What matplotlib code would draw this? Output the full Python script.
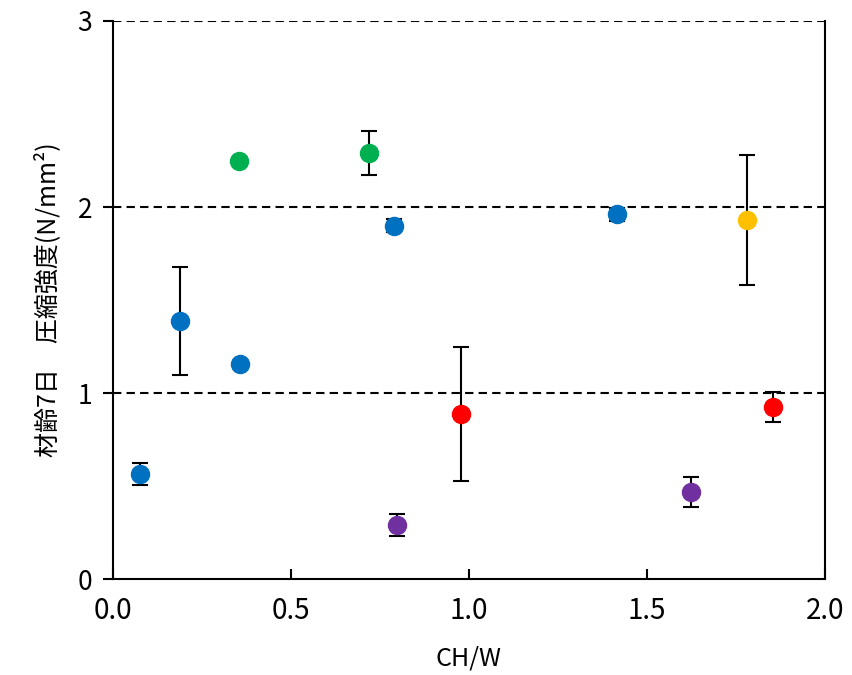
import matplotlib
matplotlib.use("Agg")
import matplotlib.pyplot as plt

plt.rcParams['font.family'] = ['Noto Sans CJK JP', 'DejaVu Sans']

# data: (CH/W, strength, error)
blue_x = [0.076, 0.188, 0.357, 0.789, 1.416]
blue_y = [0.565, 1.387, 1.156, 1.898, 1.962]
blue_e = [0.06, 0.29, 0.0, 0.035, 0.035]

green_x = [0.354, 0.719]
green_y = [2.247, 2.290]
green_e = [0.0, 0.12]

purple_x = [0.798, 1.624]
purple_y = [0.290, 0.468]
purple_e = [0.06, 0.08]

red_x = [0.978, 1.854]
red_y = [0.887, 0.925]
red_e = [0.36, 0.08]

orange_x = [1.781]
orange_y = [1.930]
orange_e = [0.35]

xticks = [0.0, 0.5, 1.0, 1.5, 2.0]
xticklabels = ["0.0", "0.5", "1.0", "1.5", "2.0"]
yticks = [0, 1, 2, 3]

fig = plt.figure(figsize=(8.53, 6.75), dpi=100)
ax = fig.add_axes([0.1325, 0.1422, 0.8345, 0.8267])

for yv in [1, 2, 3]:
    ax.axhline(yv, color='black', linestyle=(0, (4, 2.5)), linewidth=1.5, zorder=1)

series = [
    (blue_x, blue_y, blue_e, '#0070C0'),
    (green_x, green_y, green_e, '#00B050'),
    (purple_x, purple_y, purple_e, '#7030A0'),
    (red_x, red_y, red_e, '#FF0000'),
    (orange_x, orange_y, orange_e, '#FFC000'),
]
for xs, ys, es, c in series:
    ax.errorbar(xs, ys, yerr=es, fmt='none', ecolor='black', elinewidth=1.5,
                capsize=6, capthick=1.5, zorder=2)
    ax.plot(xs, ys, 'o', color=c, markersize=13, zorder=3)

ax.set_xlim(0, 2.0)
ax.set_ylim(0, 3)
ax.set_xticks(xticks)
ax.set_xticklabels(xticklabels)
ax.set_yticks(yticks)
ax.tick_params(axis='x', direction='in', length=7, width=1.5, labelsize=20, pad=12)
ax.tick_params(axis='y', direction='out', length=7, width=1.5, labelsize=19, pad=8)
for s in ['left', 'bottom', 'right']:
    ax.spines[s].set_linewidth(1.5)
ax.spines['top'].set_visible(False)

ax.set_xlabel('CH/W', fontsize=18, labelpad=14)
ax.set_ylabel('材齢7日\u3000圧縮強度(N/mm²)', fontsize=18, labelpad=12)

fig.savefig('out.png', dpi=100)
